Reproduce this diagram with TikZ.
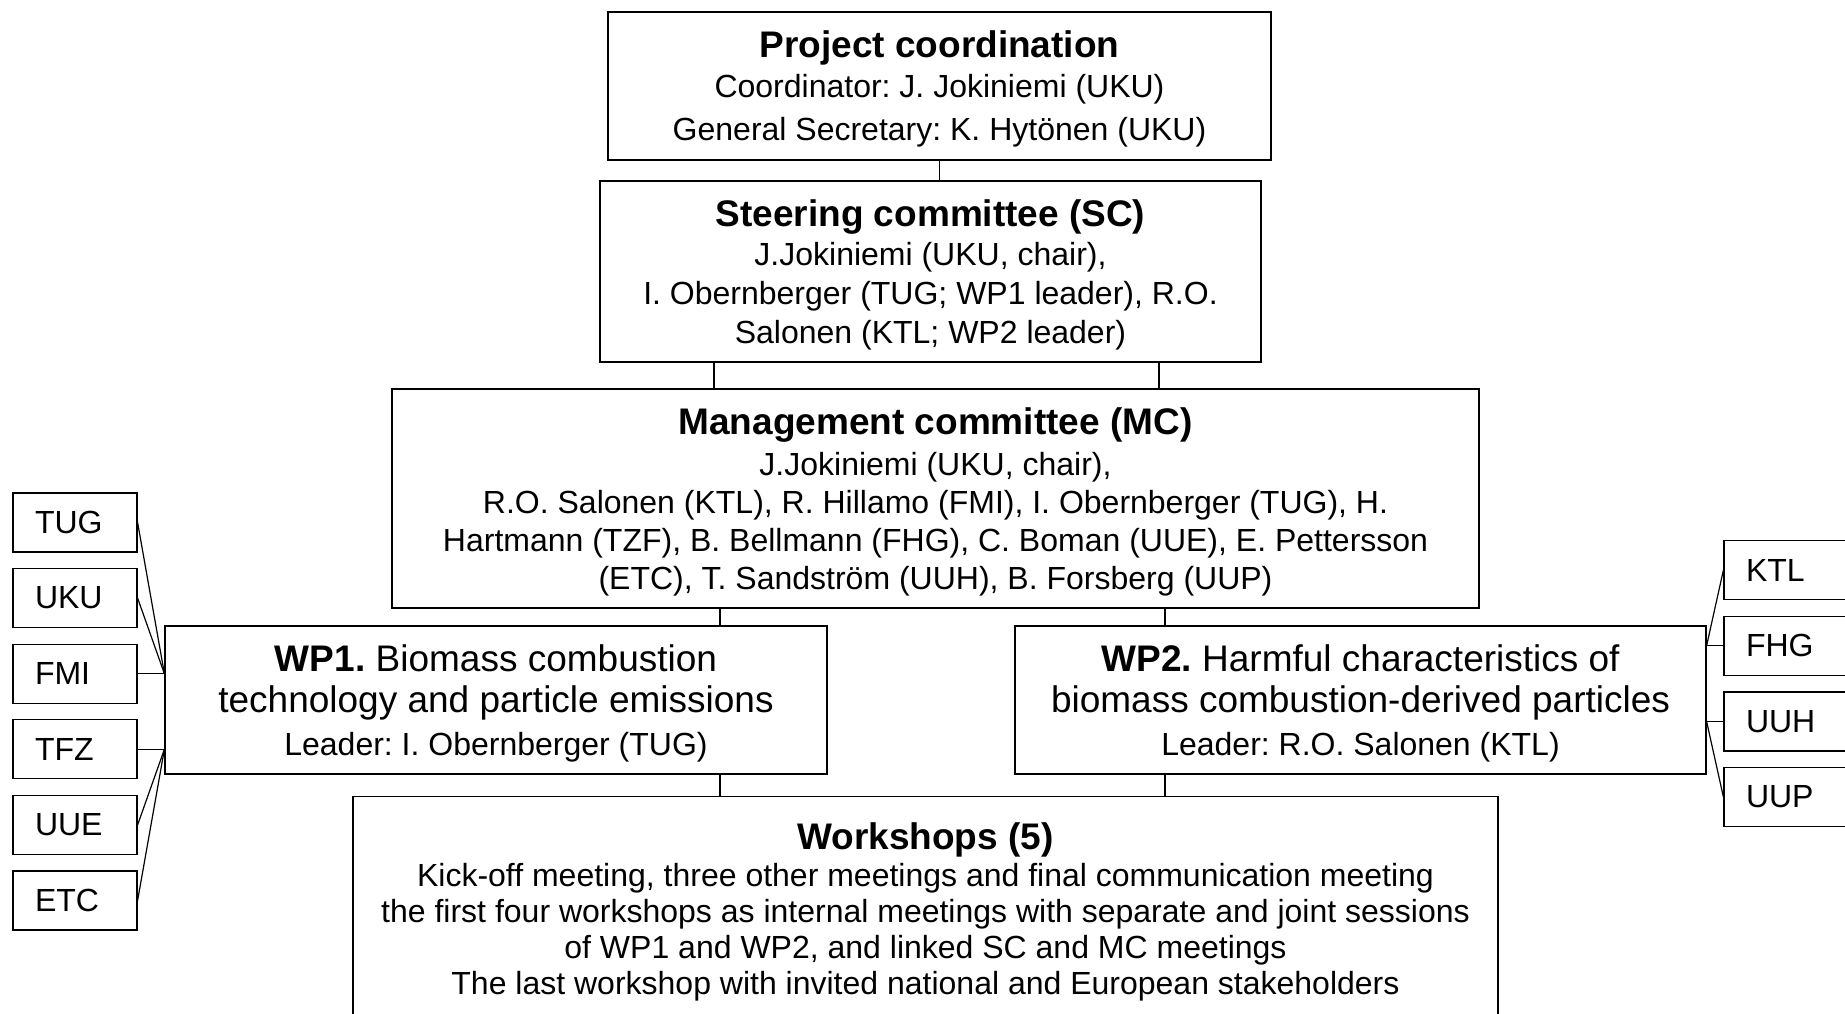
\documentclass[tikz,border=0pt]{standalone}
\usepackage{fontspec}
\setmainfont{Liberation Sans}
\frenchspacing
\newcommand{\boxhead}[1]{{\fontsize{37}{38}\selectfont\bfseries\rule{0pt}{33.5pt}#1}}
\newcommand{\wpline}[1]{{\fontsize{37}{41}\selectfont#1}}
\begin{document}
\begin{tikzpicture}[x=1pt, y=-1pt, line width=1.2pt,
    unit/.style={draw, align=center, inner sep=0pt, font=\fontsize{32}{38}\selectfont},
    partner/.style={draw, minimum height=59pt, text width=80pt, inner xsep=22pt, inner ysep=0pt, align=left, font=\fontsize{32}{38}\selectfont}]
    \useasboundingbox (0,0) rectangle (1845,1013);
    % coordination and committees
    \node[unit, minimum width=663pt, minimum height=148pt, font=\fontsize{32}{39}\selectfont] (pc) at (939.5,86)
        {\boxhead{Project coordination}\\[1pt]Coordinator: J. Jokiniemi (UKU)\\[4pt]General Secretary: K. Hytönen (UKU)};
    \node[unit, minimum width=661pt, minimum height=181pt, font=\fontsize{32}{39}\selectfont] (sc) at (930.5,271.5)
        {\boxhead{Steering committee (SC)}\\J.Jokiniemi (UKU, chair),\\I. Obernberger (TUG; WP1 leader), R.O.\\Salonen (KTL; WP2 leader)};
    \node[unit, minimum width=1087pt, minimum height=219pt] (mc) at (935.5,498.5)
        {\boxhead{Management committee (MC)}\\[3pt]J.Jokiniemi (UKU, chair),\\R.O. Salonen (KTL), R. Hillamo (FMI), I. Obernberger (TUG), H.\\Hartmann (TZF), B. Bellmann (FHG), C. Boman (UUE), E. Pettersson\\(ETC), T. Sandström (UUH), B. Forsberg (UUP)};
    % work packages
    \node[unit, minimum width=662pt, minimum height=148pt, font=\fontsize{32}{41}\selectfont] (wp1) at (496,700)
        {\wpline{\rule{0pt}{33.5pt}\textbf{WP1.} Biomass combustion}\\\wpline{technology and particle emissions}\\[2pt]Leader: I. Obernberger (TUG)};
    \node[unit, minimum width=691pt, minimum height=148pt, font=\fontsize{32}{41}\selectfont] (wp2) at (1360.5,700)
        {\wpline{\rule{0pt}{33.5pt}\textbf{WP2.} Harmful characteristics of}\\\wpline{biomass combustion-derived particles}\\[2pt]Leader: R.O. Salonen (KTL)};
    \node[unit, anchor=north, minimum width=1145pt, minimum height=223pt, font=\fontsize{32}{36}\selectfont] (ws) at (925.5,796)
        {\boxhead{Workshops (5)}\\[1pt]Kick-off meeting, three other meetings and final communication meeting\\the first four workshops as internal meetings with separate and joint sessions\\of WP1 and WP2, and linked SC and MC meetings\\The last workshop with invited national and European stakeholders};
    % partners
    \foreach \n [count=\i from 0] in {TUG,UKU,FMI,TFZ,UUE,ETC}
        \node[partner] (\n) at (75,522.5+75.6*\i) {\n};
    \foreach \n [count=\i from 0] in {KTL,FHG,UUH,UUP}
        \node[partner] (\n) at (1786,570+75.7*\i) {\n};
    % links
    \draw (pc.south) -- (pc.south |- sc.north);
    \foreach \x in {714,1159}
        \draw (sc.south -| \x,0) -- (mc.north -| \x,0);
    \foreach \x/\w in {720/wp1,1165/wp2} {
        \draw (mc.south -| \x,0) -- (\w.north -| \x,0);
        \draw (\w.south -| \x,0) -- (ws.north -| \x,0);
    }
    \foreach \n in {TUG,UKU,FMI} \draw (\n.east) -- (wp1.west |- FMI);
    \foreach \n in {TFZ,UUE,ETC} \draw (\n.east) -- (wp1.west |- TFZ);
    \foreach \n in {KTL,FHG} \draw (\n.west) -- (wp2.east |- FHG);
    \foreach \n in {UUH,UUP} \draw (\n.west) -- (wp2.east |- UUH);
\end{tikzpicture}
\end{document}
